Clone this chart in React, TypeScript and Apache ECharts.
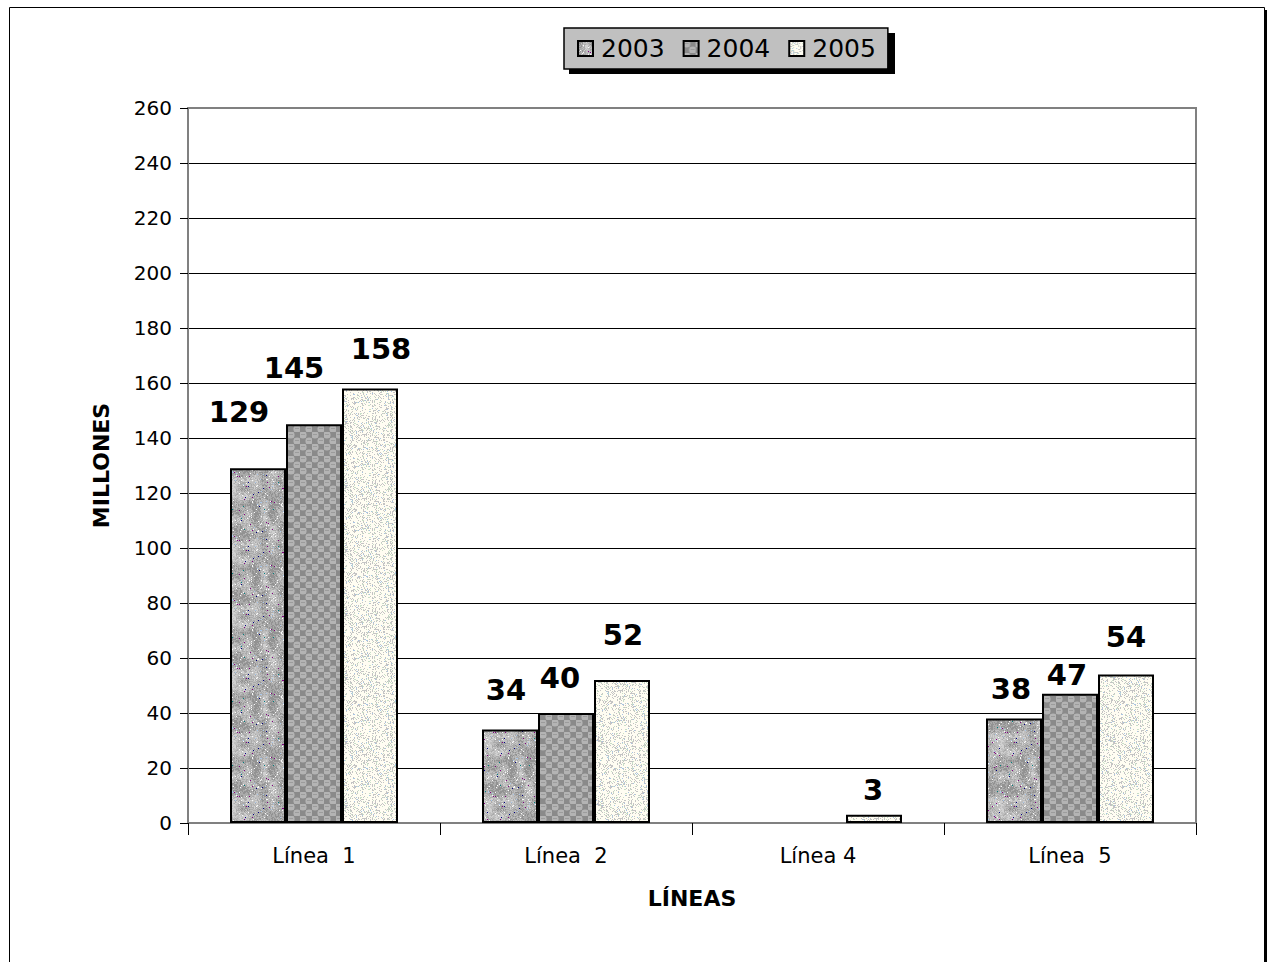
import React, { useEffect, useRef } from "react";
import * as echarts from "echarts";

// ---- data ----
const categories = ["Línea  1", "Línea  2", "Línea 4", "Línea  5"];
const seriesNames = ["2003", "2004", "2005"];
const values2003: (number | null)[] = [129, 34, null, 38];
const values2004: (number | null)[] = [145, 40, null, 47];
const values2005: (number | null)[] = [158, 52, 3, 54];
const yMin = 0;
const yMax = 260;
const yInterval = 20;

// ---- label nudges (style only) ----
const labelOffsets2003 = [[-19, -37], [-4, -20], [0, 0], [-3, -10]];
const labelOffsets2004 = [[-20, -37], [-6, -16], [0, 0], [-3, 1]];
const labelOffsets2005 = [[11, -20], [1, -26], [-1, -5], [0, -18]];

const FONT = "DejaVu Sans";

function hash(x: number, y: number, s: number): number {
  let h = (x * 374761393 + y * 668265263 + s * 982451653) | 0;
  h = Math.imul(h ^ (h >>> 13), 1274126177);
  h = h ^ (h >>> 16);
  return (h >>> 0) / 4294967296;
}

function makeCanvas(w: number, h: number) {
  const c = document.createElement("canvas");
  c.width = w;
  c.height = h;
  return c;
}

function granite(): HTMLCanvasElement {
  const W = 64;
  const c = makeCanvas(W, W);
  const ctx = c.getContext("2d")!;
  const img = ctx.createImageData(W, W);
  const cell = 8;
  const n = W / cell;
  const cv = (i: number, j: number) => hash(((i % n) + n) % n, ((j % n) + n) % n, 7);
  for (let y = 0; y < W; y++) {
    for (let x = 0; x < W; x++) {
      const gx = x / cell, gy = y / cell;
      const i = Math.floor(gx), j = Math.floor(gy);
      const fx = gx - i, fy = gy - j;
      const a = cv(i, j), b = cv(i + 1, j), c2 = cv(i, j + 1), d = cv(i + 1, j + 1);
      const coarse = (a * (1 - fx) + b * fx) * (1 - fy) + (c2 * (1 - fx) + d * fx) * fy;
      const fine = hash(x, y, 3);
      const v = coarse * 0.6 + fine * 0.4;
      let r = 0, g = 0, bl = 0;
      const gray = v < 0.33 ? 146 : v < 0.52 ? 170 : v < 0.7 ? 190 : 208;
      r = g = bl = gray;
      const sp = hash(x, y, 11);
      if (sp > 0.975) { r = g = bl = 250; }
      else if (sp < 0.005) { r = 128; g = 0; bl = 128; }
      else if (sp < 0.008) { r = 0; g = 0; bl = 128; }
      else if (sp < 0.01) { r = 0; g = 128; bl = 128; }
      else if (sp < 0.02) { r = 170; g = 200; bl = 235; }
      const k = (y * W + x) * 4;
      img.data[k] = r; img.data[k + 1] = g; img.data[k + 2] = bl; img.data[k + 3] = 255;
    }
  }
  ctx.putImageData(img, 0, 0);
  return c;
}

function checker(): HTMLCanvasElement {
  const S = 12;
  const c = makeCanvas(S, S);
  const ctx = c.getContext("2d")!;
  ctx.fillStyle = "#8a8a8a";
  ctx.fillRect(0, 0, S, S);
  const drawCircle = (cx: number, cy: number) => {
    ctx.fillStyle = "#b4b4b4";
    ctx.beginPath();
    ctx.arc(cx, cy, 3.6, 0, Math.PI * 2);
    ctx.fill();
    ctx.fillStyle = "#9c9c9c";
    ctx.fillRect(cx - 2, cy - 1, 4, 1);
  };
  ctx.fillStyle = "#a2a2a2";
  ctx.fillRect(0, 0, 6, 6);
  ctx.fillRect(6, 6, 6, 6);
  drawCircle(3, 3);
  drawCircle(9, 9);
  return c;
}

function speckle(): HTMLCanvasElement {
  const W = 64;
  const c = makeCanvas(W, W);
  const ctx = c.getContext("2d")!;
  const img = ctx.createImageData(W, W);
  for (let y = 0; y < W; y++) {
    for (let x = 0; x < W; x++) {
      const v = hash(x, y, 5);
      let r = 255, g = 253, b = 242;
      if (v < 0.2) { r = 196; g = 196; b = 196; }
      else if (v < 0.26) { r = 200; g = 222; b = 200; }
      else if (v < 0.29) { r = 168; g = 196; b = 228; }
      const k = (y * W + x) * 4;
      img.data[k] = r; img.data[k + 1] = g; img.data[k + 2] = b; img.data[k + 3] = 255;
    }
  }
  ctx.putImageData(img, 0, 0);
  return c;
}

function pattern(c: HTMLCanvasElement) {
  return { image: c, repeat: "repeat", imageWidth: c.width, imageHeight: c.height } as any;
}

export default function App() {
  const ref = useRef<HTMLDivElement>(null);
  useEffect(() => {
    document.body.style.margin = "0";
    if (!ref.current) return;
    const chart = echarts.init(ref.current, undefined, { renderer: "svg" });
    const fills = [pattern(granite()), pattern(checker()), pattern(speckle())];
    const valueSets = [values2003, values2004, values2005];
    const offsetSets = [labelOffsets2003, labelOffsets2004, labelOffsets2005];

    const series = seriesNames.map((name, si) => ({
      name,
      type: "bar",
      barWidth: 56,
      barGap: "0%",
      itemStyle: { color: fills[si], borderColor: "#000", borderWidth: 2 },
      label: {
        show: true,
        position: "top",
        distance: 5,
        color: "#000",
        fontSize: 29,
        fontWeight: "bold",
        fontFamily: FONT,
      },
      data: valueSets[si].map((v, i) => ({
        value: v,
        label: { offset: offsetSets[si][i] },
      })),
    }));

    chart.setOption({
      animation: false,
      backgroundColor: "#fff",
      textStyle: { fontFamily: FONT },
      grid: {
        left: 188,
        right: 72,
        top: 108,
        bottom: 139,
        containLabel: false,
        show: true,
        backgroundColor: "#fff",
        borderColor: "#808080",
        borderWidth: 2,
      },
      legend: {
        data: seriesNames.map((n) => ({ name: n, icon: "rect" })),
        left: 564,
        top: 28,
        orient: "horizontal",
        padding: [8, 12, 8, 13],
        itemGap: 18,
        itemWidth: 15,
        itemHeight: 15,
        backgroundColor: "#c0c0c0",
        borderColor: "#000",
        borderWidth: 1.5,
        itemStyle: { borderColor: "#000", borderWidth: 2 },
        textStyle: { fontSize: 25, color: "#000", fontFamily: FONT, padding: [0, 0, 0, 3] },
        z: 10,
      },
      graphic: [
        {
          type: "rect",
          z: 0,
          silent: true,
          shape: { x: 9.5, y: 7.5, width: 1255, height: 1000 },
          style: { fill: "none", stroke: "#000", lineWidth: 1 },
        },
        {
          type: "rect",
          z: 0,
          silent: true,
          shape: { x: 1264, y: 10, width: 3, height: 1000 },
          style: { fill: "#000" },
        },
        {
          type: "rect",
          z: 5,
          silent: true,
          shape: { x: 569, y: 33, width: 326, height: 41 },
          style: { fill: "#000" },
        },
      ],
      xAxis: {
        type: "category",
        data: categories,
        name: "LÍNEAS",
        nameLocation: "middle",
        nameGap: 64,
        nameTextStyle: { fontSize: 22, fontWeight: "bold", color: "#000", fontFamily: FONT },
        axisLine: { show: true, lineStyle: { color: "#808080", width: 2 } },
        axisTick: { show: true, length: 12, lineStyle: { color: "#000", width: 1 } },
        axisLabel: { fontSize: 21, color: "#000", margin: 22, fontFamily: FONT },
        splitLine: { show: false },
      },
      yAxis: {
        type: "value",
        min: yMin,
        max: yMax,
        interval: yInterval,
        name: "MILLONES",
        nameLocation: "middle",
        nameRotate: 90,
        nameGap: 76,
        nameTextStyle: { fontSize: 22, fontWeight: "bold", color: "#000", fontFamily: FONT },
        axisLine: { show: true, lineStyle: { color: "#808080", width: 2 } },
        axisTick: { show: true, length: 8, lineStyle: { color: "#000", width: 1 } },
        axisLabel: { fontSize: 20, color: "#000", margin: 16, fontFamily: FONT },
        splitLine: {
          show: true,
          showMinLine: false,
          showMaxLine: false,
          lineStyle: { color: "#000", width: 1 },
        },
      },
      series,
    } as any);
    return () => chart.dispose();
  }, []);
  return <div ref={ref} style={{ width: 1268, height: 962 }} />;
}
